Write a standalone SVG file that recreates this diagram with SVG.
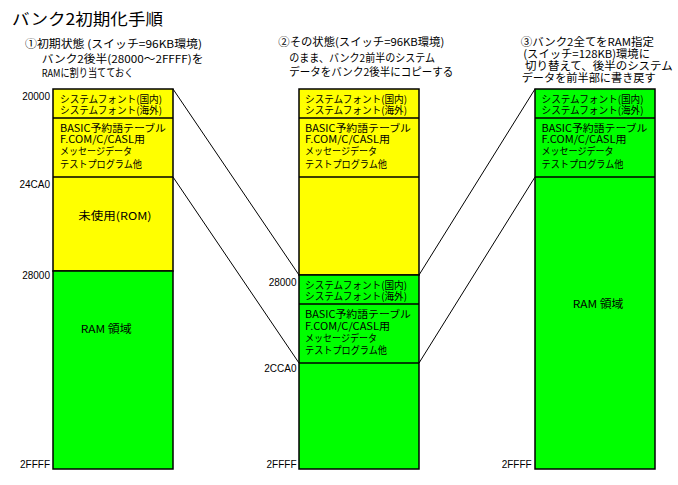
<svg xmlns="http://www.w3.org/2000/svg" width="678" height="485" viewBox="0 0 678 485">
<style>
text{font-family:"Noto Sans CJK JP","Noto Sans",sans-serif;fill:#000}
.t{font-size:10px}
.c{font-size:11px}
.a{font-family:"Liberation Sans","DejaVu Sans",sans-serif;font-size:10px;text-anchor:end}
.y{fill:#ffff00;stroke:#000;stroke-width:1.5}
.g{fill:#00ff00;stroke:#000;stroke-width:1.5}
.d{stroke:#000;stroke-width:1.5;fill:none}
.ln{stroke:#000;stroke-width:1;fill:none}
</style>
<rect width="678" height="485" fill="#fff"/>
<text x="12" y="25" style="font-size:16px" textLength="151" lengthAdjust="spacingAndGlyphs">バンク2初期化手順</text>

<g id="caption1" class="c">
<text x="25" y="47.5" textLength="177" lengthAdjust="spacingAndGlyphs">①初期状態 (スイッチ=96KB環境)</text>
<text x="41.7" y="63" textLength="161.7" lengthAdjust="spacingAndGlyphs">バンク2後半(28000～2FFFF)を</text>
<text x="41.7" y="77" textLength="91.7" lengthAdjust="spacingAndGlyphs">RAMに割り当てておく</text>
</g>
<g id="caption2" class="c">
<text x="278.3" y="46" textLength="166" lengthAdjust="spacingAndGlyphs">②その状態(スイッチ=96KB環境)</text>
<text x="289.3" y="61.5" textLength="145.7" lengthAdjust="spacingAndGlyphs">のまま、バンク2前半のシステム</text>
<text x="289.3" y="75.7" textLength="164" lengthAdjust="spacingAndGlyphs">データをバンク2後半にコピーする</text>
</g>
<g id="caption3" class="c">
<text x="520.7" y="46" textLength="133.3" lengthAdjust="spacingAndGlyphs">③バンク2全てをRAM指定</text>
<text x="523.3" y="58" textLength="126.7" lengthAdjust="spacingAndGlyphs">(スイッチ=128KB)環境に</text>
<text x="525" y="69.5" textLength="147.7" lengthAdjust="spacingAndGlyphs">切り替えて、後半のシステム</text>
<text x="521.7" y="81.5" textLength="134" lengthAdjust="spacingAndGlyphs">データを前半部に書き戻す</text>
</g>

<g id="connectors">
<line class="ln" x1="173" y1="89" x2="299" y2="275"/>
<line class="ln" x1="173" y1="177" x2="299" y2="363"/>
<line class="ln" x1="419" y1="275" x2="535" y2="89"/>
<line class="ln" x1="419" y1="363" x2="535" y2="177"/>
</g>

<g id="bank1">
<rect class="y" x="53" y="89" width="120" height="182"/>
<rect class="g" x="53" y="271" width="120" height="198"/>
<line class="d" x1="53" y1="118" x2="173" y2="118"/>
<line class="d" x1="53" y1="177" x2="173" y2="177"/>
<g class="t">
<text x="60" y="102.5" textLength="102" lengthAdjust="spacingAndGlyphs">システムフォント(国内)</text>
<text x="60" y="113.5" textLength="102" lengthAdjust="spacingAndGlyphs">システムフォント(海外)</text>
<text x="60" y="131.5" textLength="106" lengthAdjust="spacingAndGlyphs">BASIC予約語テーブル</text>
<text x="60" y="143" textLength="85" lengthAdjust="spacingAndGlyphs">F.COM/C/CASL用</text>
<text x="60" y="155" textLength="72" lengthAdjust="spacingAndGlyphs">メッセージデータ</text>
<text x="60" y="167.5" textLength="82" lengthAdjust="spacingAndGlyphs">テストプログラム他</text>
<text x="78.3" y="219.5" style="font-size:11px" textLength="73.3" lengthAdjust="spacingAndGlyphs">未使用(ROM)</text>
<text x="80.7" y="332.5" style="font-size:11px" textLength="51" lengthAdjust="spacingAndGlyphs">RAM 領域</text>
</g>
<text class="a" x="50" y="100">20000</text>
<text class="a" x="50" y="187.5">24CA0</text>
<text class="a" x="50" y="279">28000</text>
<text class="a" x="50" y="467.5">2FFFF</text>
</g>

<g id="bank2">
<rect class="y" x="299" y="89" width="120" height="186"/>
<rect class="g" x="299" y="275" width="120" height="194"/>
<line class="d" x1="299" y1="118" x2="419" y2="118"/>
<line class="d" x1="299" y1="177" x2="419" y2="177"/>
<line class="d" x1="299" y1="304" x2="419" y2="304"/>
<line class="d" x1="299" y1="363" x2="419" y2="363"/>
<g class="t">
<text x="305" y="102.5" textLength="102" lengthAdjust="spacingAndGlyphs">システムフォント(国内)</text>
<text x="305" y="113.5" textLength="102" lengthAdjust="spacingAndGlyphs">システムフォント(海外)</text>
<text x="305" y="131.5" textLength="106" lengthAdjust="spacingAndGlyphs">BASIC予約語テーブル</text>
<text x="305" y="143" textLength="85" lengthAdjust="spacingAndGlyphs">F.COM/C/CASL用</text>
<text x="305" y="155" textLength="72" lengthAdjust="spacingAndGlyphs">メッセージデータ</text>
<text x="305" y="167.5" textLength="82" lengthAdjust="spacingAndGlyphs">テストプログラム他</text>
<text x="305" y="288.5" textLength="102" lengthAdjust="spacingAndGlyphs">システムフォント(国内)</text>
<text x="305" y="299.5" textLength="102" lengthAdjust="spacingAndGlyphs">システムフォント(海外)</text>
<text x="305" y="318" textLength="106" lengthAdjust="spacingAndGlyphs">BASIC予約語テーブル</text>
<text x="305" y="329.5" textLength="85" lengthAdjust="spacingAndGlyphs">F.COM/C/CASL用</text>
<text x="305" y="341.5" textLength="72" lengthAdjust="spacingAndGlyphs">メッセージデータ</text>
<text x="305" y="353.5" textLength="82" lengthAdjust="spacingAndGlyphs">テストプログラム他</text>
</g>
<text class="a" x="296.5" y="286">28000</text>
<text class="a" x="296.5" y="371.5">2CCA0</text>
<text class="a" x="296.5" y="467.5">2FFFF</text>
</g>

<g id="bank3">
<rect class="g" x="535" y="89" width="120" height="380"/>
<line class="d" x1="535" y1="118" x2="655" y2="118"/>
<line class="d" x1="535" y1="177" x2="655" y2="177"/>
<g class="t">
<text x="541.5" y="102.5" textLength="102" lengthAdjust="spacingAndGlyphs">システムフォント(国内)</text>
<text x="541.5" y="113.5" textLength="102" lengthAdjust="spacingAndGlyphs">システムフォント(海外)</text>
<text x="541.5" y="131.5" textLength="106" lengthAdjust="spacingAndGlyphs">BASIC予約語テーブル</text>
<text x="541.5" y="143" textLength="85" lengthAdjust="spacingAndGlyphs">F.COM/C/CASL用</text>
<text x="541.5" y="155" textLength="72" lengthAdjust="spacingAndGlyphs">メッセージデータ</text>
<text x="541.5" y="167.5" textLength="82" lengthAdjust="spacingAndGlyphs">テストプログラム他</text>
<text x="572.7" y="308" style="font-size:11px" textLength="50.7" lengthAdjust="spacingAndGlyphs">RAM 領域</text>
</g>
<text class="a" x="531.7" y="467.5">2FFFF</text>
</g>
</svg>
